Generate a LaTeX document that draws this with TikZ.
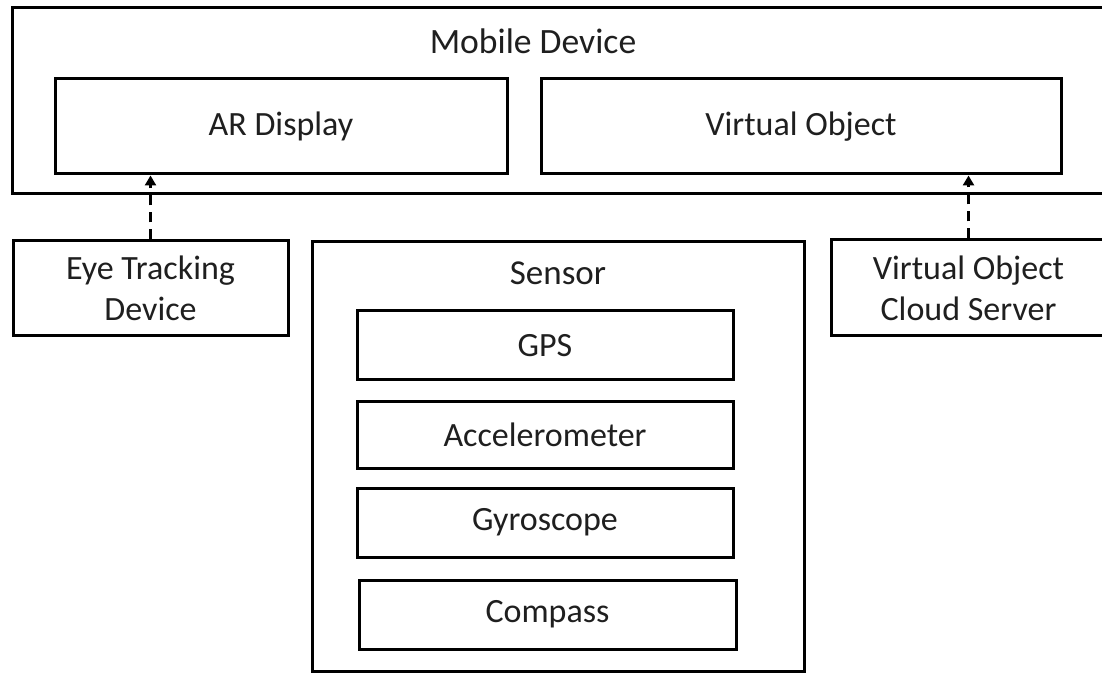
\documentclass[tikz,border=0pt]{standalone}
\usepackage{fontspec}
\setmainfont{Carlito}
\usetikzlibrary{arrows.meta,fit}
\begin{document}
\begin{tikzpicture}[x=0.5pt,y=-0.5pt,
  txt/.style={font=\fontsize{17}{20.5}\selectfont, text=black!88, align=center},
  frame/.style={draw, line width=1.5pt, rectangle, inner sep=0pt},
  box/.style={frame, txt},
  link/.style={line width=1.3pt, dash pattern=on 5pt off 3.5pt,
               -{Triangle[width=5.5pt,length=5pt]}}]
\clip (0,0) rectangle (1102,673);
\fill[white] (0,0) rectangle (1102,673);

% mobile device with its two parts
\node[frame, fit={(12,7.5) (1106,193.5)}] (mobile) {};
\node[txt, font=\fontsize{17.8}{21}\selectfont] (mobiletitle) at (533,41) {Mobile Device};
\node[box, minimum width=226pt, minimum height=47.5pt] (ar) at (281,126.5) {AR Display};
\node[box, minimum width=260pt, minimum height=47.5pt] (vo) at (801,126.5) {Virtual Object};

% external sources
\node[box, minimum width=137.5pt, minimum height=47.5pt] (eye) at (150.5,288.5) {Eye Tracking\\Device};
\node[box, minimum width=137.5pt, minimum height=48pt] (cloud) at (968.5,288) {Virtual Object\\Cloud Server};

% sensor block
\node[frame, fit={(312,242) (804,671)}] (sensor) {};
\node[txt, font=\fontsize{17.5}{21}\selectfont] (sensortitle) at (558,273) {Sensor};
\node[box, minimum width=188pt, minimum height=34.5pt] (gps) at (545,345.5) {GPS};
\node[box, minimum width=188pt, minimum height=33.5pt] (acc) at (545,434.5) {Accelerometer};
\node[box, minimum width=188pt, minimum height=34.5pt] (gyro) at (545,522.5) {Gyroscope};
\node[box, minimum width=188.5pt, minimum height=34.5pt] (compass) at (547.5,614.5) {Compass};

% data links
\draw[link] (eye.north) -- (eye.north |- ar.south);
\draw[link] (cloud.north) -- (cloud.north |- vo.south);
\end{tikzpicture}
\end{document}
